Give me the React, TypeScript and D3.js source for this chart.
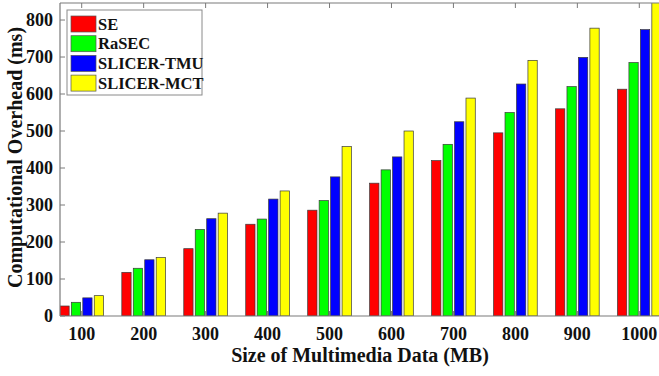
import React from "react";
import * as d3 from "d3";

const sizes = [100, 200, 300, 400, 500, 600, 700, 800, 900, 1000];
const seriesNames = ["SE", "RaSEC", "SLICER-TMU", "SLICER-MCT"];
const seriesColors = ["#ff0000", "#00ff00", "#0000ff", "#ffff00"];
const se = [27, 118, 182, 248, 286, 359, 420, 495, 560, 613];
const rasec = [37, 129, 234, 262, 312, 395, 464, 550, 620, 685];
const slicerTmu = [49, 152, 263, 316, 376, 430, 525, 627, 699, 774];
const slicerMct = [55, 158, 278, 338, 458, 500, 589, 691, 778, 870];
const yTicks = [0, 100, 200, 300, 400, 500, 600, 700, 800];

const W = 659;
const H = 376;
const margin = { top: 3, left: 60, bottom: 60 };
const font = "Liberation Serif, Tinos, Times New Roman, DejaVu Serif, serif";

const App: React.FC = () => {
  const series = [se, rasec, slicerTmu, slicerMct];
  const plotBottom = H - margin.bottom;
  // category axis runs a little past the right edge of the picture
  const x = d3.scaleLinear().domain([100, 1000]).range([81.7, 639.3]);
  const step = x(200) - x(100);
  const y = d3.scaleLinear().domain([0, 846]).range([plotBottom, margin.top]);
  const plotRight = x(1000) + (x(100) - margin.left);
  const pitch = step * 0.185;
  const bw = step * 0.15;
  const axisColor = "#7a7a7a";
  const txt = { fontFamily: font, fontWeight: 700 as const, fill: "#111" };

  return (
    <svg
      width={W}
      height={H}
      style={{ position: "absolute", left: 0, top: 0, background: "white" }}
    >
      <defs>
        <clipPath id="plot">
          <rect x={margin.left} y={margin.top} width={plotRight - margin.left} height={plotBottom - margin.top} />
        </clipPath>
      </defs>

      <g clipPath="url(#plot)">
        {sizes.map((s, i) =>
          series.map((vals, j) => (
            <rect
              key={`${i}-${j}`}
              x={x(s) + (j - 1.5) * pitch - bw / 2}
              y={y(vals[i])}
              width={bw}
              height={plotBottom - y(vals[i])}
              fill={seriesColors[j]}
              stroke="#3a3a3a"
              strokeWidth={0.7}
            />
          ))
        )}
      </g>

      {/* axes box */}
      <line x1={margin.left} x2={plotRight} y1={plotBottom} y2={plotBottom} stroke={axisColor} strokeWidth={1.2} />
      <line x1={margin.left} x2={plotRight} y1={margin.top} y2={margin.top} stroke={axisColor} strokeWidth={1.2} />
      <line x1={margin.left} x2={margin.left} y1={margin.top} y2={plotBottom} stroke={axisColor} strokeWidth={1.2} />

      {sizes.map((s) => (
        <g key={s}>
          <line x1={x(s)} x2={x(s)} y1={margin.top} y2={margin.top + 5} stroke={axisColor} />
          <line x1={x(s)} x2={x(s)} y1={plotBottom} y2={plotBottom - 5} stroke={axisColor} />
          <text x={x(s)} y={340} textAnchor="middle" fontSize={18} style={txt}>
            {s}
          </text>
        </g>
      ))}

      {yTicks.map((t) => (
        <g key={t}>
          <line x1={margin.left} x2={margin.left + 5} y1={y(t)} y2={y(t)} stroke={axisColor} />
          <text x={53} y={y(t)} dy="0.35em" textAnchor="end" fontSize={18} style={txt}>
            {t}
          </text>
        </g>
      ))}

      <text x={360} y={362} textAnchor="middle" fontSize={20} style={txt}>
        Size of Multimedia Data (MB)
      </text>
      <text
        transform={`translate(22,${(margin.top + plotBottom) / 2 - 2}) rotate(-90)`}
        textAnchor="middle"
        fontSize={20}
        style={txt}
      >
        Computational Overhead (ms)
      </text>

      {/* legend */}
      <g>
        <rect x={67} y={10} width={135} height={85} fill="white" stroke="#8a8a8a" strokeWidth={1} />
        {seriesNames.map((name, j) => (
          <g key={name}>
            <rect x={71} y={16 + j * 19.7} width={25} height={16} fill={seriesColors[j]} stroke="#555" strokeWidth={0.7} />
            <text x={98} y={24 + j * 19.7} dy="0.35em" fontSize={16.5} style={txt}>
              {name}
            </text>
          </g>
        ))}
      </g>
    </svg>
  );
};

export default App;
